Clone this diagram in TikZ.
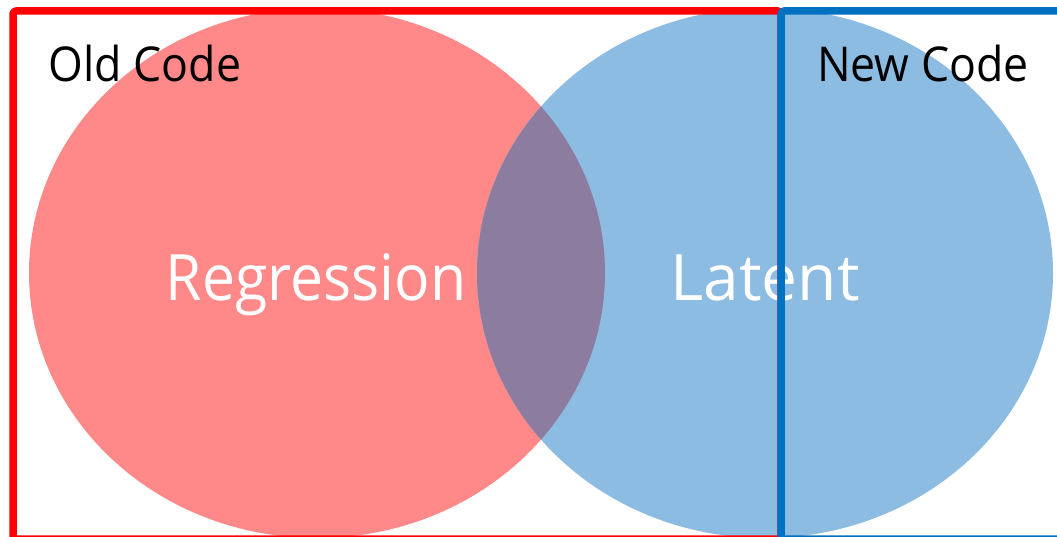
\documentclass[tikz,border=0pt]{standalone}
\usepackage{fontspec}
\setmainfont{Open Sans}
\definecolor{oldfill}{HTML}{FF8888}
\definecolor{newfill}{HTML}{8CBCE2}
\definecolor{bothfill}{HTML}{8C7DA0}
\definecolor{oldline}{HTML}{FF0000}
\definecolor{newline}{HTML}{0070C0}
\begin{document}
\begin{tikzpicture}[x=1pt,y=1pt,line join=round]
	\tikzset{every node/.style={inner sep=0pt},
		setlabel/.style={anchor=base,xscale=0.93,font=\fontsize{48}{56}\selectfont},
		blobtext/.style={anchor=base,text=white,font=\fontsize{64}{76}\selectfont}}
	\useasboundingbox (0,0) rectangle (1057,536);
	% the two sets
	\fill[oldfill] (317,263) ellipse [x radius=288, y radius=265];
	\fill[newfill] (765,263) ellipse [x radius=288, y radius=265];
	\begin{scope}
		\clip (317,263) ellipse [x radius=288, y radius=265];
		\fill[bothfill] (765,263) ellipse [x radius=288, y radius=265];
	\end{scope}
	% labels
	\node[setlabel] (old) at (145,454) {Old Code};
	\node[setlabel] (new) at (923,454) {New Code};
	\node[blobtext,xscale=0.92] (regr) at (316,236) {Regression};
	\node[blobtext] (lat) at (765,236) {Latent};
	% frames
	\draw[oldline,line width=7.5pt,rounded corners=3pt] (781,-3) rectangle (13,525);
	\draw[newline,line width=7.5pt,rounded corners=3pt] (1066,-3) rectangle (781,525);
\end{tikzpicture}
\end{document}
